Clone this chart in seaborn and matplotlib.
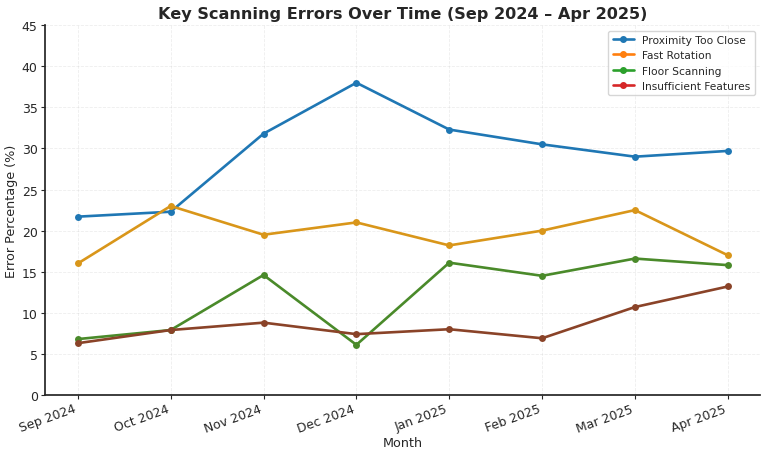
import numpy as np
import pandas as pd
import matplotlib
matplotlib.use("Agg")
import matplotlib.pyplot as plt
from matplotlib.lines import Line2D
import seaborn as sns

months = ["Sep 2024", "Oct 2024", "Nov 2024", "Dec 2024",
          "Jan 2025", "Feb 2025", "Mar 2025", "Apr 2025"]
proximity = [21.7, 22.3, 31.8, 38.0, 32.3, 30.5, 29.0, 29.7]
fast_rotation = [16.0, 23.0, 19.5, 21.0, 18.2, 20.0, 22.5, 17.0]
floor_scanning = [6.8, 7.9, 14.6, 6.1, 16.1, 14.5, 16.6, 15.8]
insufficient = [6.3, 7.9, 8.8, 7.4, 8.0, 6.9, 10.7, 13.2]

series_names = ["Proximity Too Close", "Fast Rotation", "Floor Scanning", "Insufficient Features"]
legend_colors = ["#1f77b4", "#ff7f0e", "#2ca02c", "#d62728"]
# lines in the picture look a bit muddier than the legend swatches
line_colors = ["#1f77b4", "#d9961a", "#4a8a2a", "#8a4328"]

df = pd.DataFrame({
    "Month": months * 4,
    "Error": proximity + fast_rotation + floor_scanning + insufficient,
    "Type": np.repeat(series_names, len(months)),
})
df["x"] = np.tile(np.arange(len(months)), 4)

sns.set_theme(style="ticks")
plt.rcParams["font.family"] = ["DejaVu Sans"]

fig, ax = plt.subplots(figsize=(7.68, 4.52), dpi=100)
fig.subplots_adjust(left=0.059, right=0.99, top=0.942, bottom=0.124)

sns.lineplot(data=df, x="x", y="Error", hue="Type", palette=line_colors,
             marker="o", markersize=5, markeredgewidth=0, linewidth=1.9,
             ax=ax, legend=False)

ax.set_xticks(range(len(months)))
ax.set_xticklabels(months, rotation=20, ha="right", fontsize=9, color="#262626")
ax.set_ylim(0, 45)
ax.set_yticks(range(0, 46, 5))
ax.tick_params(axis="y", labelsize=9, labelcolor="#262626", pad=2.5)
ax.tick_params(axis="x", pad=2)
ax.tick_params(length=3, width=0.8)
ax.grid(True, linestyle="--", linewidth=0.6, alpha=0.35)
sns.despine(ax=ax)

ax.set_title("Key Scanning Errors Over Time (Sep 2024 – Apr 2025)",
             fontsize=11.6, fontweight="bold", color="#262626", pad=5)
ax.set_xlabel("Month", fontsize=9.2, color="#262626", labelpad=1)
ax.set_ylabel("Error Percentage (%)", fontsize=9.2, color="#262626", labelpad=3)

handles = [Line2D([0], [0], color=c, marker="o", markersize=4, linewidth=1.9)
           for c in legend_colors]
ax.legend(handles, series_names, loc="upper right", fontsize=7.7, frameon=True)

plt.savefig("out.png", dpi=100)
